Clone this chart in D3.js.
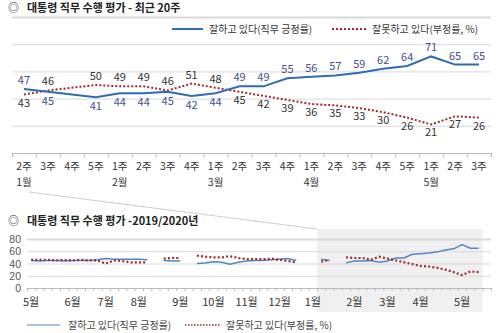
<!DOCTYPE html>
<html><head><meta charset="utf-8">
<script src="https://cdn.jsdelivr.net/npm/d3@7"></script>
<style>
body{margin:0;background:#fff}
svg{display:block;font-family:"Noto Sans CJK KR","Noto Sans",sans-serif}
</style>
</head><body><svg id="c" width="500" height="333"></svg>
<script>
// ---- data: last 20 weeks ----
const weeks = ["2주","3주","4주","5주","1주","2주","3주","4주","1주","2주","3주","4주","1주","2주","3주","4주","5주","1주","2주","3주"];
const weekMonths = ["1월","","","","2월","","","","3월","","","","4월","","","","","5월","",""];
const approve = [47,45,null,41,44,44,45,42,44,49,49,55,56,57,59,62,64,71,65,65];
const disapprove = [43,46,null,50,49,49,46,51,48,45,42,39,36,35,33,30,26,21,27,26];
// ---- data: 2019 weeks (May 2019 1주 .. Jan 2020 1주) ----
const approve2019 = [45,44,45,45,44,45,45,45,46,48,47,47,47,47,46,null,45,44,44,null,40,41,43,42,39,42,44,45,45,46,47,48,45,null,null];
const disapprove2019 = [46,46,46,45,46,45,46,45,45,40,45,44,42,42,42,null,48,49,49,null,53,51,50,50,52,49,47,47,47,48,46,44,42,null,null];
const months2 = ["5월","6월","7월","8월","9월","10월","11월","12월","1월","2월","3월","4월","5월"];
const monthStartWeek2 = [0,5,9,13,18,22,26,30,34,39,43,47,52];
const yTicks1 = [20,40,60,80,100];
const yTicks2 = [0,20,40,60,80];
const legendLabels = ["잘하고 있다(직무 긍정률)","잘못하고 있다(부정률, %)"];
const title1 = "대통령 직무 수행 평가 - 최근 20주";
const title2 = "대통령 직무 수행 평가 -2019/2020년";

const approveAll = approve2019.concat(approve);
const disapproveAll = disapprove2019.concat(disapprove);

const BLUE = "#2f6cb4", RED = "#a3282e";
const svg = d3.select("#c");

// ================= TOP CHART =================
const xb = d3.scaleBand().domain(d3.range(weeks.length)).range([12, 491]);
const xl = d3.scaleLinear().domain([0, weeks.length]).range([12, 491]);
const y1 = d3.scaleLinear().domain([0, 100]).range([153, 17]);

svg.append("text").attr("x", 8).attr("y", 12).attr("font-size", 11).attr("fill", "#222").text("◎");
svg.append("text").attr("x", 27).attr("y", 12).attr("font-size", 11).attr("font-weight", "bold").attr("fill", "#222")
  .text(title1);

const g1 = svg.append("g").attr("transform", "translate(12,0)")
  .call(d3.axisLeft(y1).tickValues(yTicks1).tickSize(-479).tickFormat(""));
g1.select(".domain").remove();
g1.selectAll(".tick line").attr("stroke", "#d9d9d9").attr("stroke-width", d => d === 100 ? 2 : 1);

const ax1 = svg.append("g").attr("transform", "translate(0,153)")
  .call(d3.axisBottom(xl).tickValues(d3.range(weeks.length + 1)).tickSize(4).tickSizeOuter(0).tickFormat(""));
ax1.select(".domain").attr("stroke", "#b5b5b5");
ax1.selectAll(".tick line").attr("stroke", "#b5b5b5");

svg.append("g").selectAll("text").data(weeks).join("text")
  .attr("x", (d, i) => xb(i) + xb.bandwidth() / 2).attr("y", 170)
  .attr("text-anchor", "middle").attr("font-size", 10.5).attr("fill", "#333").text(d => d);
svg.append("g").selectAll("text").data(weekMonths).join("text")
  .attr("x", (d, i) => xb(i) + xb.bandwidth() / 2).attr("y", 185.5)
  .attr("text-anchor", "middle").attr("font-size", 10.5).attr("fill", "#333").text(d => d);

const pts = arr => arr.map((v, i) => ({i, v})).filter(d => d.v != null);
const line1 = d3.line().x(d => xb(d.i) + xb.bandwidth() / 2).y(d => y1(d.v));
svg.append("path").attr("d", line1(pts(disapprove))).attr("fill", "none")
  .attr("stroke", RED).attr("stroke-width", 2).attr("stroke-dasharray", "2,2");
svg.append("path").attr("d", line1(pts(approve))).attr("fill", "none")
  .attr("stroke", BLUE).attr("stroke-width", 2);

const lab = svg.append("g").attr("font-size", 11).attr("text-anchor", "middle");
approve.forEach((a, i) => {
  const r = disapprove[i];
  if (a == null || r == null) return;
  const cx = xb(i) + xb.bandwidth() / 2;
  const aUp = a >= r;
  lab.append("text").attr("x", cx).attr("y", aUp ? y1(a) - 5 : y1(a) + 13)
    .attr("fill", "#45508a").text(a);
  lab.append("text").attr("x", cx).attr("y", aUp ? y1(r) + 12 : y1(r) - 5)
    .attr("fill", "#333").text(r);
});

const lg1 = svg.append("g").attr("font-size", 10).attr("fill", "#333");
lg1.append("line").attr("x1", 172).attr("x2", 203).attr("y1", 29).attr("y2", 29).attr("stroke", BLUE).attr("stroke-width", 2);
lg1.append("text").attr("x", 209).attr("y", 33).text(legendLabels[0]);
lg1.append("line").attr("x1", 332).attr("x2", 367).attr("y1", 29).attr("y2", 29).attr("stroke", RED).attr("stroke-width", 2).attr("stroke-dasharray", "2,2");
lg1.append("text").attr("x", 372).attr("y", 33).text(legendLabels[1]);

// ================= BOTTOM CHART =================
const x2 = d3.scaleLinear().domain([0, 56]).range([27, 491]);
const y2 = d3.scaleLinear().domain([0, 80]).range([288, 239]);
const zoomStart = approve2019.length, zoomEnd = approveAll.length;

svg.append("line").attr("x1", 29).attr("y1", 192).attr("x2", x2(zoomStart)).attr("y2", 229)
  .attr("stroke", "#cfcfcf").attr("stroke-width", 1);

svg.append("rect").attr("x", x2(zoomStart)).attr("y", 229).attr("width", x2(zoomEnd) - x2(zoomStart)).attr("height", 83)
  .attr("fill", "#f0f0f0");

svg.append("text").attr("x", 8).attr("y", 225).attr("font-size", 11).attr("fill", "#222").text("◎");
svg.append("text").attr("x", 27).attr("y", 225).attr("font-size", 11).attr("font-weight", "bold").attr("fill", "#222").text(title2);

const g2 = svg.append("g").attr("transform", "translate(27,0)")
  .call(d3.axisLeft(y2).tickValues(yTicks2.filter(d => d > 0)).tickSize(-464).tickFormat(""));
g2.select(".domain").remove();
g2.selectAll(".tick line").attr("stroke", "#d9d9d9").attr("stroke-width", d => d === 80 ? 2 : 1);

svg.append("g").selectAll("text").data(yTicks2).join("text")
  .attr("x", 21).attr("y", d => y2(d) + 4).attr("text-anchor", "end")
  .attr("font-family", "'Liberation Sans', Arial, sans-serif")
  .attr("font-size", 10.5).attr("fill", "#555").text(d => d);

const ax2 = svg.append("g").attr("transform", "translate(0,288)")
  .call(d3.axisBottom(x2).tickValues(d3.range(57)).tickSize(3).tickSizeOuter(0).tickFormat(""));
ax2.select(".domain").attr("stroke", "#bbb");
ax2.selectAll(".tick line").attr("stroke", "#bbb");

svg.append("g").selectAll("text").data(months2).join("text")
  .attr("x", (d, i) => x2(monthStartWeek2[i] + 0.5)).attr("y", 306)
  .attr("text-anchor", "middle").attr("font-size", 11).attr("fill", "#333").text(d => d);

const line2 = d3.line().defined(d => d.v != null).x(d => x2(d.i + 0.5)).y(d => y2(d.v));
svg.append("path").attr("d", line2(approveAll.map((v, i) => ({i, v})))).attr("fill", "none")
  .attr("stroke", "#4f86c6").attr("stroke-width", 1.5);
svg.append("path").attr("d", line2(disapproveAll.map((v, i) => ({i, v})))).attr("fill", "none")
  .attr("stroke", RED).attr("stroke-width", 2.2).attr("stroke-dasharray", "2,2.2");

const lg2 = svg.append("g").attr("font-size", 10).attr("fill", "#444");
lg2.append("line").attr("x1", 27).attr("x2", 60).attr("y1", 325).attr("y2", 325).attr("stroke", "#4f86c6").attr("stroke-width", 1.2);
lg2.append("text").attr("x", 68).attr("y", 329).text(legendLabels[0]);
lg2.append("line").attr("x1", 185).attr("x2", 220).attr("y1", 325).attr("y2", 325).attr("stroke", RED).attr("stroke-width", 1.5).attr("stroke-dasharray", "1.5,1.5");
lg2.append("text").attr("x", 226).attr("y", 329).text(legendLabels[1]);
</script>
</body></html>
